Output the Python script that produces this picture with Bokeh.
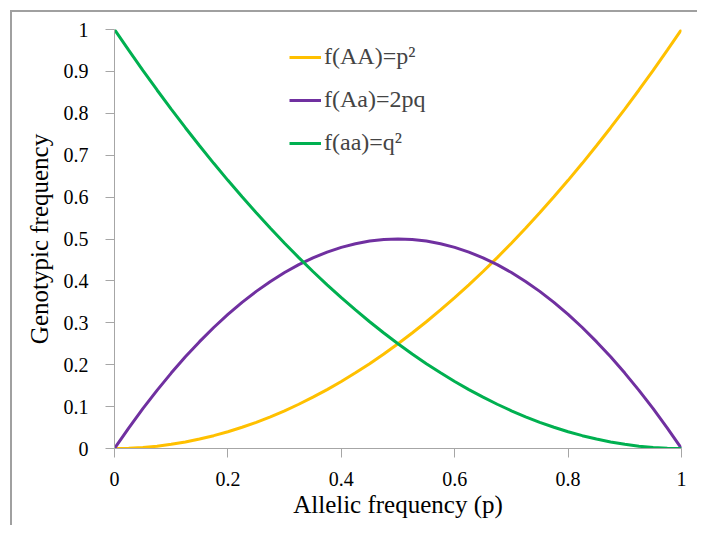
from bokeh.plotting import figure
from bokeh.models import (Range1d, FixedTicker, NumeralTickFormatter, Legend, LegendItem)
from bokeh.embed import file_html
from bokeh.resources import INLINE

# Data
p_vals = [0, 0.025, 0.05, 0.075, 0.1, 0.125, 0.15, 0.175, 0.2, 0.225, 0.25,
          0.275, 0.3, 0.325, 0.35, 0.375, 0.4, 0.425, 0.45, 0.475, 0.5,
          0.525, 0.55, 0.575, 0.6, 0.625, 0.65, 0.675, 0.7, 0.725, 0.75,
          0.775, 0.8, 0.825, 0.85, 0.875, 0.9, 0.925, 0.95, 0.975, 1]
f_AA = [0, 0.000625, 0.0025, 0.005625, 0.01, 0.015625, 0.0225, 0.030625, 0.04, 0.050625, 0.0625,
        0.075625, 0.09, 0.105625, 0.1225, 0.140625, 0.16, 0.180625, 0.2025, 0.225625, 0.25,
        0.275625, 0.3025, 0.330625, 0.36, 0.390625, 0.4225, 0.455625, 0.49, 0.525625, 0.5625,
        0.600625, 0.64, 0.680625, 0.7225, 0.765625, 0.81, 0.855625, 0.9025, 0.950625, 1]
f_Aa = [0, 0.04875, 0.095, 0.13875, 0.18, 0.21875, 0.255, 0.28875, 0.32, 0.34875, 0.375,
        0.39875, 0.42, 0.43875, 0.455, 0.46875, 0.48, 0.48875, 0.495, 0.49875, 0.5,
        0.49875, 0.495, 0.48875, 0.48, 0.46875, 0.455, 0.43875, 0.42, 0.39875, 0.375,
        0.34875, 0.32, 0.28875, 0.255, 0.21875, 0.18, 0.13875, 0.095, 0.04875, 0]
f_aa = [1, 0.950625, 0.9025, 0.855625, 0.81, 0.765625, 0.7225, 0.680625, 0.64, 0.600625, 0.5625,
        0.525625, 0.49, 0.455625, 0.4225, 0.390625, 0.36, 0.330625, 0.3025, 0.275625, 0.25,
        0.225625, 0.2025, 0.180625, 0.16, 0.140625, 0.1225, 0.105625, 0.09, 0.075625, 0.0625,
        0.050625, 0.04, 0.030625, 0.0225, 0.015625, 0.01, 0.005625, 0.0025, 0.000625, 0]

series_labels = ["f(AA)=p²", "f(Aa)=2pq", "f(aa)=q²"]
series_colors = ["#FFC000", "#7030A0", "#00B050"]
x_ticks = [0, 0.2, 0.4, 0.6, 0.8, 1]
y_ticks = [0, 0.1, 0.2, 0.3, 0.4, 0.5, 0.6, 0.7, 0.8, 0.9, 1]

FONT = "Liberation Serif"
AXIS_GRAY = "#a6a6a6"
BORDER_GRAY = "#a0a0a0"
OFF = 10      # offset of the chart-area frame from the page corner
BW = 2        # frame line width

# canvas sits inside the frame's top/left border
p = figure(width=699 - OFF - BW, height=527 - OFF - BW, output_backend="svg", toolbar_location=None,
           x_range=Range1d(0, 1), y_range=Range1d(0, 1),
           min_border_left=114 - OFF - BW, min_border_right=18,
           min_border_top=29 - OFF - BW, min_border_bottom=79)
p.outline_line_color = None
p.xgrid.visible = False
p.ygrid.visible = False
p.styles = {
    "margin": f"{OFF}px 0px 0px {OFF}px",
    "border-top": f"{BW}px solid {BORDER_GRAY}",
    "border-left": f"{BW}px solid {BORDER_GRAY}",
}

renderers = []
for ys, c in zip([f_AA, f_Aa, f_aa], series_colors):
    r = p.line(p_vals, ys, line_color=c, line_width=3)
    renderers.append(r)

for ax in (p.xaxis[0], p.yaxis[0]):
    ax.axis_line_color = AXIS_GRAY
    ax.major_tick_line_color = AXIS_GRAY
    ax.major_tick_out = 9
    ax.major_tick_in = 0
    ax.minor_tick_line_color = None
    ax.major_label_text_font = FONT
    ax.major_label_text_font_size = "20px"
    ax.major_label_text_color = "#000000"
    ax.axis_label_text_font = FONT
    ax.axis_label_text_font_size = "25px"
    ax.axis_label_text_font_style = "normal"
    ax.axis_label_text_color = "#000000"
    ax.formatter = NumeralTickFormatter(format="0.[0]")

p.xaxis[0].ticker = FixedTicker(ticks=x_ticks)
p.yaxis[0].ticker = FixedTicker(ticks=y_ticks)
p.xaxis[0].axis_label = "Allelic frequency (p)"
p.yaxis[0].axis_label = "Genotypic frequency"
p.xaxis[0].major_label_standoff = 14
p.xaxis[0].axis_label_standoff = 2
p.yaxis[0].major_label_standoff = 17
p.yaxis[0].axis_label_standoff = 8

legend = Legend(items=[LegendItem(label=l, renderers=[r]) for l, r in zip(series_labels, renderers)],
                location=(175, 292), orientation="vertical",
                border_line_color=None, background_fill_alpha=0,
                label_text_font=FONT, label_text_font_size="24px",
                glyph_width=32, glyph_height=26, label_height=26, spacing=16,
                padding=0, margin=0, label_standoff=3)
p.add_layout(legend, "center")

open("out.html", "w").write(file_html(p, INLINE))
